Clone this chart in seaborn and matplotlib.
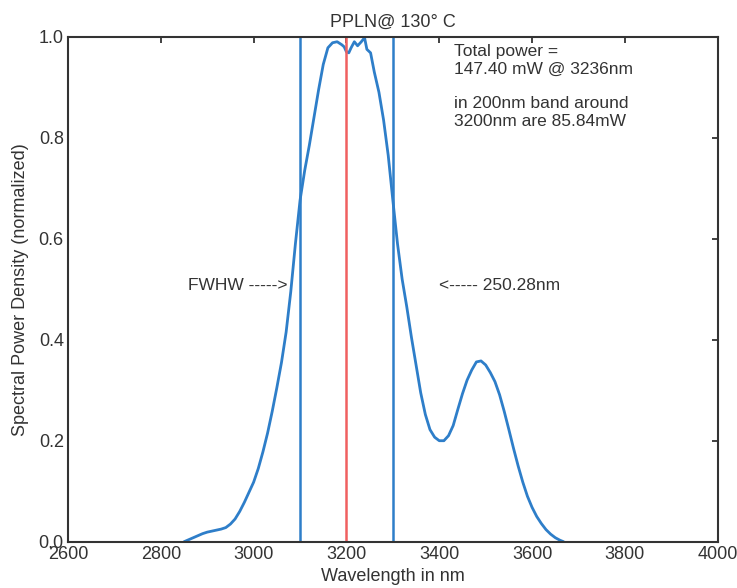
import matplotlib
matplotlib.use("Agg")
import matplotlib.pyplot as plt
import seaborn as sns
import pandas as pd

wavelength = [2850, 2860, 2870, 2880, 2890, 2900, 2910, 2920, 2930, 2940, 2950, 2960, 2970,
              2980, 2990, 3000, 3010, 3020, 3030, 3040, 3050, 3060, 3070, 3080, 3090, 3100,
              3110, 3120, 3130, 3140, 3150, 3160, 3170, 3180, 3190, 3195, 3200, 3205, 3210,
              3217, 3224, 3232, 3239, 3244, 3252, 3260, 3270, 3280, 3290, 3300, 3310, 3320,
              3330, 3340, 3350, 3360, 3370, 3380, 3390, 3400, 3410, 3420, 3430, 3440, 3450,
              3460, 3470, 3480, 3490, 3500, 3510, 3520, 3530, 3540, 3550, 3560, 3570, 3580,
              3590, 3600, 3610, 3620, 3630, 3640, 3650, 3660, 3668]
density = [0.000, 0.004, 0.008, 0.012, 0.016, 0.019, 0.021, 0.023, 0.025, 0.028, 0.035, 0.045, 0.060,
           0.078, 0.098, 0.118, 0.145, 0.178, 0.215, 0.258, 0.305, 0.355, 0.415, 0.495, 0.590, 0.676,
           0.735, 0.785, 0.840, 0.895, 0.945, 0.978, 0.988, 0.990, 0.984, 0.980, 0.970, 0.968, 0.978,
           0.990, 0.982, 0.990, 0.998, 0.975, 0.968, 0.930, 0.890, 0.835, 0.765, 0.676, 0.590, 0.520,
           0.465, 0.405, 0.350, 0.295, 0.252, 0.222, 0.207, 0.200, 0.200, 0.210, 0.230, 0.262, 0.293,
           0.320, 0.340, 0.356, 0.358, 0.350, 0.335, 0.317, 0.291, 0.258, 0.222, 0.185, 0.150, 0.118,
           0.090, 0.068, 0.050, 0.036, 0.024, 0.015, 0.008, 0.003, 0.000]
fwhm_edges = [3100, 3300]
center_line = 3200
xticks = [2600, 2800, 3000, 3200, 3400, 3600, 3800, 4000]
yticks = [0.0, 0.2, 0.4, 0.6, 0.8, 1.0]

sns.set_style("white")
plt.rcParams['font.family'] = ['Liberation Sans', 'DejaVu Sans']

blue = "#2e7ec9"
red = "#f06060"
txt = "#333333"

fig = plt.figure(figsize=(7.37, 5.88), dpi=100)
ax = fig.add_axes([0.0923, 0.0787, 0.8815, 0.8589])

df = pd.DataFrame({"Wavelength": wavelength, "Density": density})
sns.lineplot(data=df, x="Wavelength", y="Density", ax=ax, color=blue, linewidth=2.0, sort=False)
for xe in fwhm_edges:
    ax.axvline(xe, color=blue, linewidth=1.8)
ax.axvline(center_line, color=red, linewidth=1.8)

ax.set_xlim(2600, 4000)
ax.set_ylim(0, 1)
ax.set_xticks(xticks)
ax.set_yticks(yticks)
ax.set_xticklabels([str(t) for t in xticks])
ax.set_yticklabels([f"{t:.1f}" for t in yticks])
ax.tick_params(direction="in", top=True, right=True, length=4.5, width=1.3,
               colors=txt, labelsize=13, pad=3)
for s in ax.spines.values():
    s.set_color(txt)
    s.set_linewidth(1.5)

ax.set_xlabel("Wavelength in nm", fontsize=13, color=txt, labelpad=4)
ax.set_ylabel("Spectral Power Density (normalized)", fontsize=13, color=txt, labelpad=7)
ax.set_title("PPLN@ 130° C", fontsize=13, color=txt, pad=7)

ax.text(3432, 0.985, "Total power =\n147.40 mW @ 3236nm\n\nin 200nm band around\n3200nm are 85.84mW",
        fontsize=12.5, color=txt, va="top", ha="left", linespacing=1.2)
ax.text(3073, 0.507, "FWHW ----->", fontsize=12.5, color=txt, va="center", ha="right")
ax.text(3400, 0.507, "<----- 250.28nm", fontsize=12.5, color=txt, va="center", ha="left")

fig.savefig("out.png", dpi=100, facecolor="white")
